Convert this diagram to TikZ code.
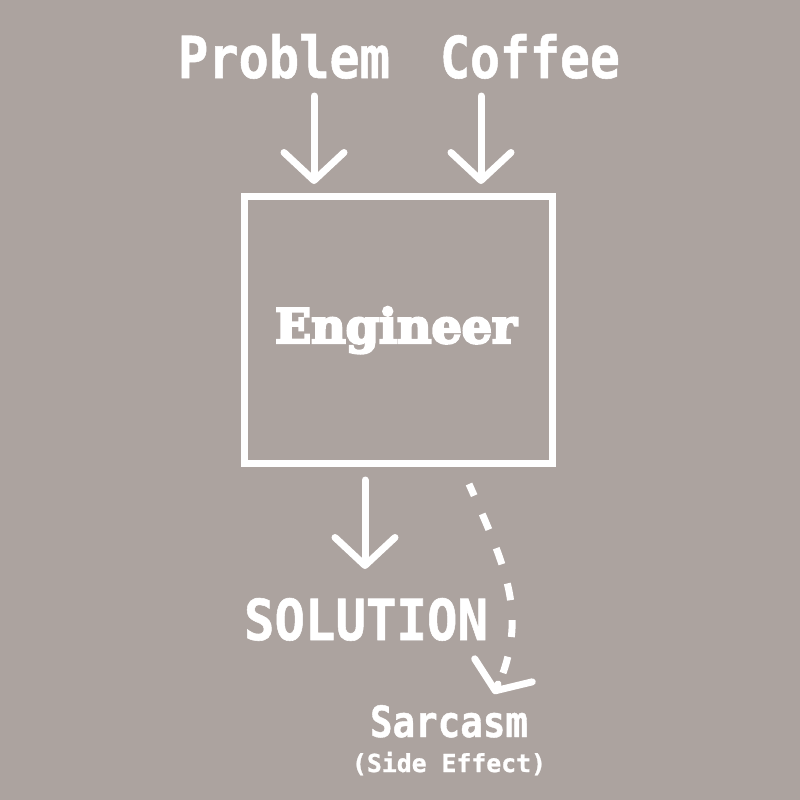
\documentclass[tikz,border=0pt]{standalone}
\usepackage{fontspec}
\setmonofont{DejaVu Sans Mono}[BoldFeatures={FakeBold=1}]
\newfontfamily\engfont{DejaVu Serif}[BoldFeatures={FakeBold=5}]
\usetikzlibrary{arrows.meta}
\definecolor{bg}{HTML}{ACA39F}
\tikzset{
  wline/.style={draw=white, line width=7pt, line cap=round, line join=round},
  barb/.style={-{Straight Barb[length=28pt,width=60pt,round]}},
  label/.style={text=white, inner sep=0pt, anchor=base, font=\ttfamily\bfseries},
}
\begin{document}
\begin{tikzpicture}[x=1pt,y=-1pt]
\fill[bg] (0,0) rectangle (800,800);
\useasboundingbox (0,0) rectangle (800,800);

\node[label] (problem) at (284,78) {\resizebox{212pt}{44pt}{Problem}};
\node[label] (coffee) at (530,78) {\resizebox{180pt}{44pt}{Coffee}};

\node[draw=white, line width=7pt, minimum width=308pt, minimum height=267pt, inner sep=0pt] (box) at (398.5,330) {};
\node[text=white, inner sep=0pt, anchor=base, font=\engfont\bfseries] (eng) at (396,343) {\resizebox{242pt}{!}{Engineer}};

\coordinate (p1) at (314,96);
\coordinate (p2) at (314,184);
\coordinate (c1) at (481,96);
\coordinate (c2) at (481,184);
\draw[wline, barb] (p1) -- (p2);
\draw[wline, barb] (c1) -- (c2);

\coordinate (s1) at (365,480);
\coordinate (s2) at (365,569);
\draw[wline, barb] (s1) -- (s2);

\node[label] (solution) at (366,640) {\resizebox{244pt}{42pt}{SOLUTION}};

\coordinate (d1) at (469,484);
\coordinate (d2) at (503,673);
\coordinate (t1) at (498,684);
\coordinate (t2) at (494,694);
\draw[draw=white, line width=7pt, dash pattern=on 17pt off 20pt]
  (d2) .. controls (525,610) and (505,565) .. (d1);
\draw[wline, -{Straight Barb[length=22pt,width=62pt,round]}] (t1) -- (t2);

\node[label] (sarcasm) at (449,737) {\resizebox{158pt}{32pt}{Sarcasm}};
\node[label] (side) at (449,772) {\resizebox{194pt}{!}{(Side Effect)}};
\end{tikzpicture}
\end{document}
